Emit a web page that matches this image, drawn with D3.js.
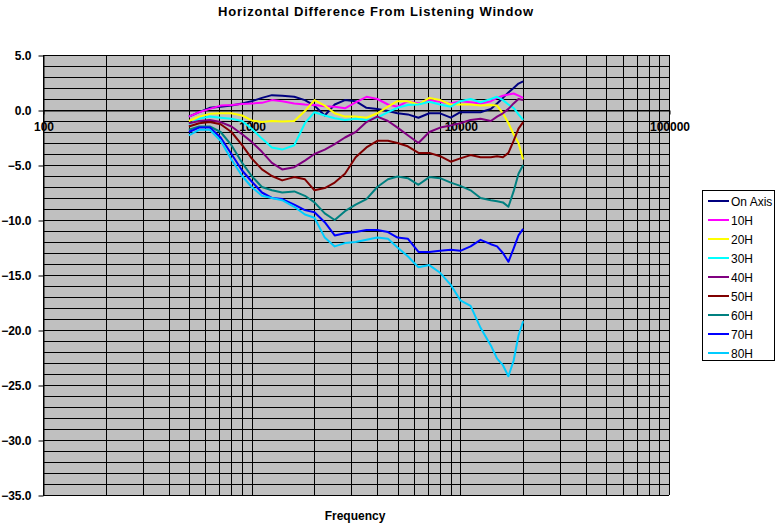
<!DOCTYPE html>
<html>
<head>
<meta charset="utf-8">
<script src="https://cdn.jsdelivr.net/npm/d3@7"></script>
<style>
body { margin:0; background:#fff; }
svg { display:block; }
text { font-family: "Liberation Sans", Arial, sans-serif; }
</style>
</head>
<body>
<svg id="chart" width="780" height="528"></svg>
<script>
const title = "Horizontal Difference From Listening Window";
const xTitle = "Frequency";
const freqs = [500,560,630,710,800,900,1000,1120,1250,1400,1600,1800,2000,2240,2500,2800,3150,3550,4000,4500,5000,5600,6300,7100,8000,9000,10000,11200,12500,14000,15000,16000,17000,18000,19000,20000];
const seriesNames = ["On Axis","10H","20H","30H","40H","50H","60H","70H","80H"];
const seriesColors = ["#000080","#FF00FF","#FFFF00","#00FFFF","#800080","#800000","#008080","#0000FF","#00CCFF"];
const onAxis = [-0.6,-0.2,0.2,0.3,0.4,0.6,0.8,1.1,1.35,1.3,1.2,0.9,0.4,-0.5,0.5,0.9,0.8,0.2,0.1,-0.1,-0.3,-0.4,-0.7,-0.3,-0.3,-0.7,-0.2,-0.2,-0.2,0.1,0.6,1.1,1.6,2.0,2.4,2.6];
const h10 = [-0.6,-0.2,0.1,0.4,0.45,0.55,0.6,0.65,0.9,0.8,0.6,0.5,0.45,0.35,0.3,0.15,0.7,1.2,1.0,0.5,0.3,0.8,0.6,0.9,0.75,0.6,0.8,0.7,0.6,0.8,1.1,1.3,1.4,1.5,1.3,1.1];
const h20 = [-1.0,-0.6,-0.35,-0.3,-0.3,-0.5,-0.95,-1.1,-1.0,-1.05,-1.0,-0.1,0.9,0.4,-0.3,-0.6,-0.6,-0.7,-0.3,0.3,0.8,0.8,0.5,1.1,0.9,0.5,0.5,0.5,0.4,0.45,0.4,-0.3,-1.2,-2.2,-3.0,-4.5];
const h30 = [-1.3,-0.8,-0.6,-0.7,-0.8,-1.0,-1.7,-2.6,-3.4,-3.6,-3.2,-1.2,-0.2,-0.5,-0.75,-0.9,-0.8,-0.9,-0.7,-0.2,0.2,0.45,0.5,0.75,0.5,0.3,0.8,1.0,0.7,1.0,1.2,0.9,0.5,0.2,-0.4,-0.9];
const h40 = [-1.2,-1.0,-0.9,-1.1,-1.5,-2.2,-2.9,-3.8,-4.8,-5.4,-5.2,-4.6,-4.0,-3.6,-3.1,-2.5,-2.0,-1.1,-0.6,-1.0,-1.6,-2.3,-3.0,-2.0,-1.6,-1.4,-1.2,-0.9,-0.8,-1.0,-0.6,-0.3,0.1,0.6,1.0,0.9];
const h50 = [-1.5,-1.2,-1.1,-1.3,-2.0,-3.2,-4.4,-5.4,-6.0,-6.4,-6.1,-6.3,-7.3,-7.1,-6.6,-5.8,-4.3,-3.4,-2.8,-2.8,-3.0,-3.3,-3.9,-3.9,-4.2,-4.7,-4.4,-4.1,-4.3,-4.3,-4.2,-4.3,-3.9,-2.8,-1.7,-1.1];
const h60 = [-1.8,-1.5,-1.5,-2.0,-3.2,-4.8,-6.0,-7.0,-7.3,-7.5,-7.4,-7.8,-8.4,-9.4,-10.0,-9.2,-8.6,-8.1,-7.0,-6.3,-6.05,-6.2,-6.8,-6.1,-6.2,-6.6,-6.9,-7.3,-8.0,-8.2,-8.3,-8.4,-8.8,-7.4,-5.8,-5.0];
const h70 = [-2.0,-1.6,-1.6,-2.5,-4.0,-5.5,-6.5,-7.5,-8.0,-8.1,-8.6,-9.1,-9.3,-10.2,-11.4,-11.2,-11.1,-10.9,-10.9,-11.1,-11.6,-11.7,-12.9,-12.9,-12.8,-12.7,-12.8,-12.4,-11.8,-12.2,-12.4,-13.0,-13.8,-12.6,-11.4,-10.8];
const h80 = [-2.3,-1.8,-1.8,-2.8,-4.5,-6.0,-7.0,-7.8,-8.0,-8.2,-8.8,-9.5,-9.8,-11.6,-12.4,-12.1,-12.0,-11.8,-11.6,-11.7,-12.5,-13.3,-14.3,-14.1,-14.8,-15.9,-17.3,-17.8,-19.8,-21.4,-22.6,-23.2,-24.2,-22.8,-20.5,-19.2];
const seriesValues = [onAxis,h10,h20,h30,h40,h50,h60,h70,h80];
const yTicks = [5,0,-5,-10,-15,-20,-25,-30,-35];
const xTicks = [100,1000,10000,100000];

const svg = d3.select("#chart");
const L = 43, R = 669, T = 55, B = 495;
const x = d3.scaleLog().domain([100,100000]).range([L,R]);
const y = d3.scaleLinear().domain([-35,5]).range([B,T]);

svg.append("rect").attr("x",L).attr("y",T).attr("width",R-L).attr("height",B-T).attr("fill","#C0C0C0");

// grid
const g = svg.append("g").attr("stroke","#000").attr("stroke-width",1).attr("shape-rendering","crispEdges");
const vgrid = [];
for (let d = 100; d < 100000; d *= 10) for (let k = 1; k <= 9; k++) vgrid.push(d*k);
vgrid.push(100000);
g.selectAll("line.v").data(vgrid).join("line")
  .attr("x1",d=>Math.round(x(d))+0.5).attr("x2",d=>Math.round(x(d))+0.5)
  .attr("y1",T).attr("y2",B);
g.selectAll("line.h").data(d3.range(-35,6,1)).join("line")
  .attr("x1",L).attr("x2",R)
  .attr("y1",d=>Math.round(y(d))+0.5).attr("y2",d=>Math.round(y(d))+0.5);

// y axis
const yAxis = d3.axisLeft(y).tickValues(yTicks).tickFormat(d3.format(".1f")).tickSize(5).tickSizeOuter(0);
const ya = svg.append("g").attr("transform",`translate(${L+0.5},0.5)`).call(yAxis);
ya.select(".domain").attr("stroke","#000");
ya.selectAll("text").attr("font-size",12).attr("font-weight","bold").attr("fill","#000")
  .attr("font-family","'Liberation Sans', Arial, sans-serif").attr("x",-12);

// x axis at y=0
const xAxis = d3.axisBottom(x).tickValues(xTicks).tickFormat(d3.format("d")).tickSize(4).tickSizeOuter(0);
const xa = svg.append("g").attr("transform",`translate(0.5,${Math.round(y(0))+0.5})`).call(xAxis);
xa.select(".domain").attr("stroke","#000");
xa.selectAll("text").attr("font-size",12).attr("font-weight","bold").attr("fill","#000")
  .attr("font-family","'Liberation Sans', Arial, sans-serif").attr("y",12);

// series
const line = d3.line().x((d,i)=>x(freqs[i])).y(d=>y(d)).curve(d3.curveLinear);
svg.append("g").selectAll("path").data(seriesValues).join("path")
  .attr("d",d=>line(d)).attr("fill","none")
  .attr("stroke",(d,i)=>seriesColors[i]).attr("stroke-width",2).attr("stroke-linejoin","round");

// title
svg.append("text").attr("x",376).attr("y",16).attr("text-anchor","middle")
  .attr("font-size",13).attr("font-weight","bold").attr("letter-spacing",0.8).text(title);
svg.append("text").attr("x",355).attr("y",520).attr("text-anchor","middle")
  .attr("font-size",12).attr("font-weight","bold").text(xTitle);

// legend
const lg = svg.append("g");
lg.append("rect").attr("x",702.5).attr("y",190.5).attr("width",72).attr("height",170)
  .attr("fill","#fff").attr("stroke","#000");
const items = lg.selectAll("g.item").data(seriesNames).join("g")
  .attr("transform",(d,i)=>`translate(0,${201 + i*19})`);
items.append("line").attr("x1",708).attr("x2",729).attr("y1",0).attr("y2",0)
  .attr("stroke",(d,i)=>seriesColors[i]).attr("stroke-width",2);
items.append("text").attr("x",731).attr("y",4.5).attr("font-size",12).text(d=>d);
</script>
</body>
</html>
